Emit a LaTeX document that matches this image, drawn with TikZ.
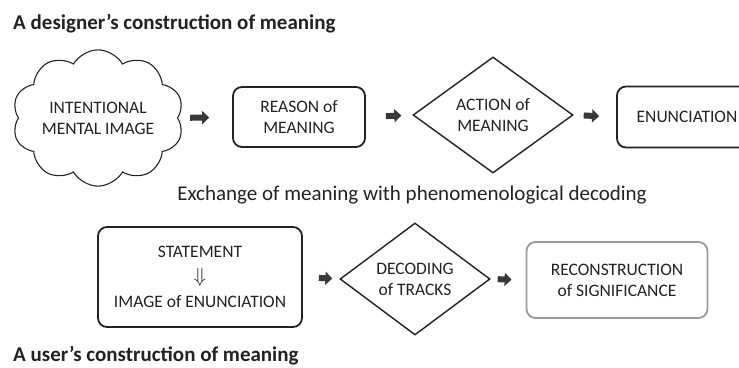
\documentclass[tikz,border=0pt]{standalone}
\usepackage{fontspec}
\setmainfont{Carlito}
\usetikzlibrary{shapes,shapes.geometric,shapes.symbols,positioning,arrows.meta}

\definecolor{inkgray}{HTML}{222222}
\definecolor{softgray}{HTML}{9A9A9A}

\begin{document}
\begin{tikzpicture}[
    x=1pt, y=-1pt,
    titleNode/.style={anchor=base west, inner sep=0pt, text=inkgray, font=\fontsize{21}{25}\selectfont\bfseries},
    boxText/.style={align=center, text=inkgray, font=\fontsize{17.5}{21}\selectfont},
    cloudNode/.style={boxText, cloud, cloud puffs=10, cloud puff arc=120, aspect=1.4, draw=inkgray, line width=1.1pt, minimum width=150pt, minimum height=109pt, inner sep=0pt},
    roundNode/.style={boxText, rectangle, rounded corners=9pt, draw=inkgray, line width=1.8pt, inner sep=0pt},
    diamondNode/.style={boxText, diamond, draw=inkgray, line width=1.4pt, inner sep=0pt},
    arrow/.style={-{Triangle[length=7pt, width=13pt]}, line width=6pt, draw=inkgray!90}
  ]
  \useasboundingbox[fill=white] (0,0) rectangle (739,367);

  % First Row
  \node[titleNode] (title1) at (13,29) {A designer’s construction of meaning};
  \node[cloudNode] (cloud) at (98,118) {INTENTIONAL\\MENTAL IMAGE};
  \node[roundNode, minimum width=132pt, minimum height=60pt] (reason) at (299,117) {REASON of\\MEANING};
  \node[diamondNode, minimum width=160pt, minimum height=116pt] (action) at (493,115) {ACTION of\\MEANING};
  \node[roundNode, minimum width=140pt, minimum height=61pt] (enun) at (687,117) {ENUNCIATION};

  % Arrows
  \draw[arrow, shorten <=12pt, shorten >=23pt] (cloud.east) -- (reason.west);
  \draw[arrow, shorten <=20pt, shorten >=11pt] (reason.east) -- (action.west);
  \draw[arrow, shorten <=10pt, shorten >=17pt] (action.east) -- (enun.west);

  % Exchange
  \node[text=inkgray, font=\fontsize{21}{25}\selectfont] (exchange) at (412,195) {Exchange of meaning with phenomenological decoding};

  % Second Row
  \node[roundNode, minimum width=204pt, minimum height=100pt, font=\fontsize{17.5}{25}\selectfont] (statement) at (200,277) {STATEMENT\\{\fontsize{22}{25}\selectfont$\Downarrow$}\\IMAGE of ENUNCIATION};
  \node[diamondNode, minimum width=150pt, minimum height=112pt] (decoding) at (415,279) {DECODING\\of TRACKS};
  \node[roundNode, draw=softgray, minimum width=181pt, minimum height=76pt] (recon) at (617,280) {RECONSTRUCTION\\of SIGNIFICANCE};
  \node[titleNode] (title2) at (13,361) {A user’s construction of meaning};

  % Arrows
  \draw[arrow, shorten <=16pt, shorten >=7pt] (statement.east) -- (decoding.west);
  \draw[arrow, shorten <=7pt, shorten >=14pt] (decoding.east) -- (recon.west);

\end{tikzpicture}
\end{document}
